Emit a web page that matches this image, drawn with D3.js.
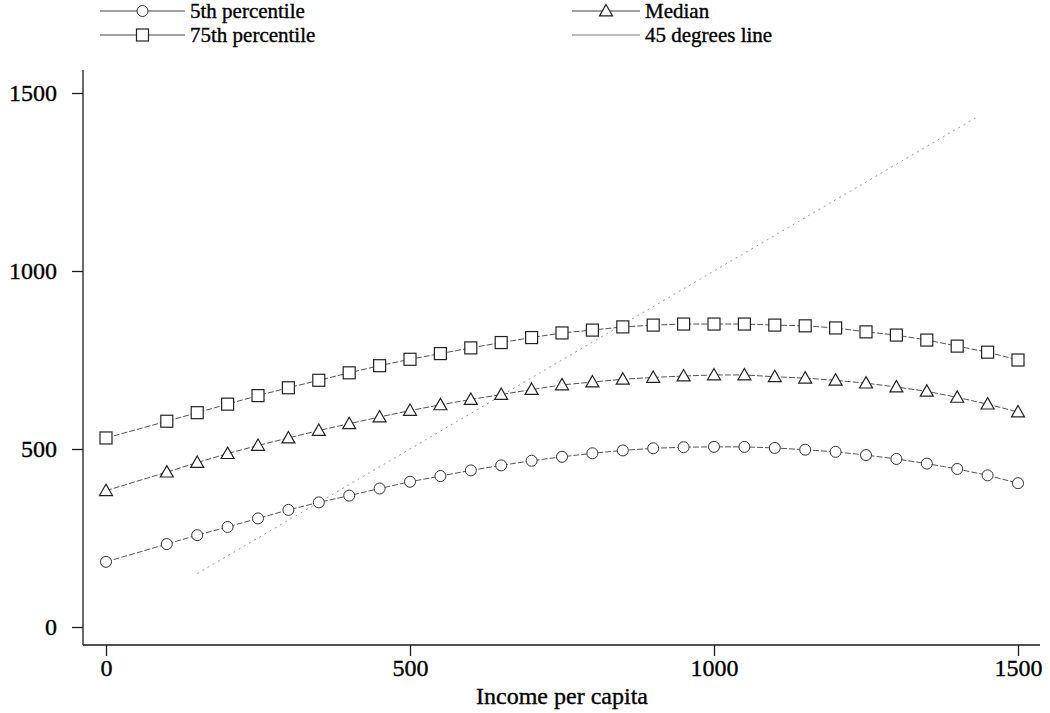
<!DOCTYPE html>
<html>
<head>
<meta charset="utf-8">
<script src="https://cdn.jsdelivr.net/npm/d3@7"></script>
<style>
  html, body { margin: 0; padding: 0; background: #fff; }
  svg { display: block; }
  text { font-family: "Liberation Serif", "DejaVu Serif", serif; fill: #000; stroke: #000; stroke-width: 0.35px; }
</style>
</head>
<body>
<svg id="chart" width="1050" height="713"></svg>
<script>
// ---- data ----
const incomes = [0,100,150,200,250,300,350,400,450,500,550,600,650,700,750,800,850,900,950,1000,1050,1100,1150,1200,1250,1300,1350,1400,1450,1500];
const p5 =  [183,233,258,281,305,329,350,369,389,408,424,440,454,467,478,488,496,502,505,506,506,503,498,492,483,472,459,444,426,404];
const median = [383,435,462,487,510,531,552,571,590,608,624,639,653,667,680,688,696,701,705,708,708,703,699,693,685,674,662,645,626,604];
const p75 = [531,578,602,626,650,672,693,714,734,752,768,784,799,813,826,834,843,848,851,851,851,848,846,840,829,820,806,789,772,750];
const line45 = [150, 1430];
const xTicks = [0, 500, 1000, 1500];
const yTicks = [0, 500, 1000, 1500];
const xTitle = "Income per capita";
const legendLabels = ["5th percentile", "Median", "75th percentile", "45 degrees line"];

const svg = d3.select("#chart");
const x = d3.scaleLinear().domain([0, 1500]).range([106, 1018]);
const y = d3.scaleLinear().domain([0, 1500]).range([627, 93]);

const axisLeftX = 83, axisBottomY = 645;
const ink = "#1a1a1a";
const fontSize = 24;

// axes lines
svg.append("line").attr("x1", axisLeftX).attr("x2", axisLeftX).attr("y1", 70).attr("y2", axisBottomY)
  .attr("stroke", ink).attr("stroke-width", 1.3);
svg.append("line").attr("x1", axisLeftX).attr("x2", 1040).attr("y1", axisBottomY).attr("y2", axisBottomY)
  .attr("stroke", ink).attr("stroke-width", 1.5);

// y axis
const yAxis = d3.axisLeft(y).tickValues(yTicks).tickSize(11).tickPadding(15).tickFormat(d3.format("d"));
const gy = svg.append("g").attr("transform", `translate(${axisLeftX},0)`).call(yAxis);
gy.select(".domain").remove();
gy.selectAll(".tick line").attr("stroke", ink).attr("stroke-width", 1.3);
gy.selectAll(".tick text").attr("font-size", fontSize).attr("font-family", "Liberation Serif").attr("fill", "#000");

// x axis
const xAxis = d3.axisBottom(x).tickValues(xTicks).tickSize(11).tickPadding(3).tickFormat(d3.format("d"));
const gx = svg.append("g").attr("transform", `translate(0,${axisBottomY})`).call(xAxis);
gx.select(".domain").remove();
gx.selectAll(".tick line").attr("stroke", ink).attr("stroke-width", 1.3);
gx.selectAll(".tick text").attr("font-size", fontSize).attr("font-family", "Liberation Serif").attr("fill", "#000");

svg.append("text").attr("x", 562).attr("y", 704).attr("text-anchor", "middle")
  .attr("font-size", fontSize).text(xTitle);

// 45 degree line
svg.append("line")
  .attr("x1", x(line45[0])).attr("y1", y(line45[0]))
  .attr("x2", x(line45[1])).attr("y2", y(line45[1]))
  .attr("stroke", "#999").attr("stroke-width", 1).attr("stroke-dasharray", "2,4");

const lineGen = d3.line().x((d, i) => x(incomes[i])).y(d => y(d));
const seriesStroke = "#555";

function drawSeries(values, shape) {
  svg.append("path").datum(values).attr("d", lineGen)
    .attr("fill", "none").attr("stroke", seriesStroke).attr("stroke-width", 1)
    .attr("stroke-dasharray", "6,2");
  const g = svg.append("g");
  values.forEach((v, i) => drawMarker(g, x(incomes[i]), y(v), shape));
}

function drawMarker(g, cx, cy, shape) {
  if (shape === "circle") {
    g.append("circle").attr("cx", cx).attr("cy", cy).attr("r", 5.5)
      .attr("fill", "#fff").attr("stroke", "#333").attr("stroke-width", 1);
  } else if (shape === "triangle") {
    const s = 6.5;
    g.append("path").attr("d", `M${cx},${cy - s}L${cx + s},${cy + s * 0.75}L${cx - s},${cy + s * 0.75}Z`)
      .attr("fill", "#fff").attr("stroke", "#222").attr("stroke-width", 1.2);
  } else {
    const s = 6;
    g.append("rect").attr("x", cx - s).attr("y", cy - s).attr("width", 2 * s).attr("height", 2 * s)
      .attr("fill", "#fff").attr("stroke", "#222").attr("stroke-width", 1.2);
  }
}

drawSeries(p5, "circle");
drawSeries(median, "triangle");
drawSeries(p75, "square");

// legend
const legendItems = [
  { label: legendLabels[0], shape: "circle", x0: 100, x1: 185, tx: 190, cy: 11 },
  { label: legendLabels[1], shape: "triangle", x0: 572, x1: 640, tx: 645, cy: 11 },
  { label: legendLabels[2], shape: "square", x0: 100, x1: 185, tx: 190, cy: 35 },
  { label: legendLabels[3], shape: null, x0: 572, x1: 640, tx: 645, cy: 35 }
];
legendItems.forEach(it => {
  const lg = svg.append("g");
  lg.append("line").attr("x1", it.x0).attr("x2", it.x1).attr("y1", it.cy).attr("y2", it.cy)
    .attr("stroke", it.shape ? "#444" : "#777").attr("stroke-width", 1);
  if (it.shape) drawMarker(lg, (it.x0 + it.x1) / 2, it.cy, it.shape);
  lg.append("text").attr("x", it.tx).attr("y", it.cy + 7).attr("font-size", 21).text(it.label);
});
</script>
</body>
</html>
